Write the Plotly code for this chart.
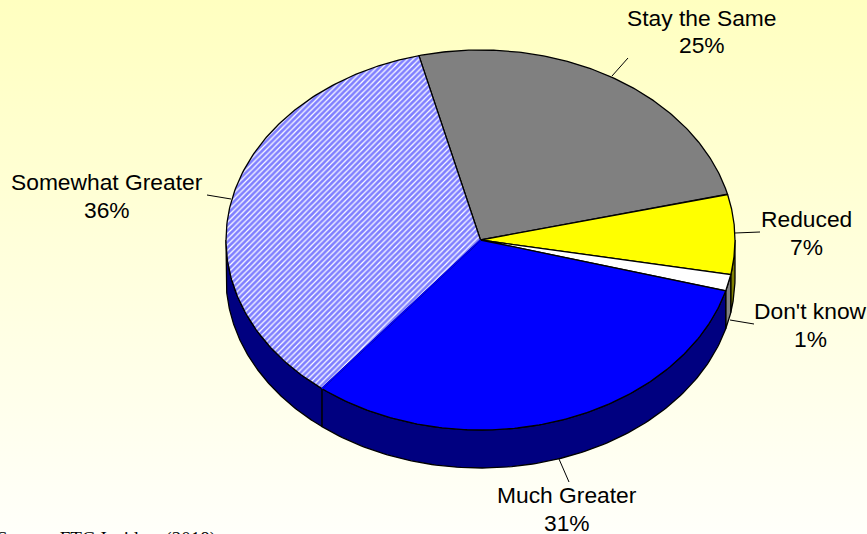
import numpy as np
import plotly.graph_objects as go

# Survey answers, clockwise from the top of the pie
categories = ["Stay the Same", "Reduced", "Don't know", "Much Greater", "Somewhat Greater"]
shares = [25.0, 6.8, 1.4, 31.4, 35.4]
percent_labels = ["25%", "7%", "1%", "31%", "36%"]
source_note = "Source: FTG Insiders (2018)"

# Pie drawn as tilted ellipse, sizes in page pixels
CX, CY = 480.5, 240
RX, RY = 254.5, 190
DEPTH = 38
START = 104  # degrees

top_colors = ["#808080", "#FFFF00", "#FFFFFF", "#0000FF", "#FFFFFF"]
side_colors = ["#404040", "#808000", "#808080", "#000080", "#000080"]

# label position (x, name line y, percent line y) and leader line for each slice
label_pos = [(702, 18, 45), (806, 219, 247), (810, 311, 339), (567, 495, 523), (107, 182, 210)]
leaders = [((612, 76), (628, 58)), ((735, 233), (760, 232)), ((730, 320), (754, 324)),
           ((559, 459), (569, 482)), ((231, 199), (207, 195))]


def rim(t):
    t = np.radians(t)
    return CX + RX * np.cos(t), CY - RY * np.sin(t)


fig = go.Figure()

# Background gradient
fig.add_trace(go.Scatter(
    x=[0, 867, 867, 0, 0], y=[0, 0, 534, 534, 0], mode="none", fill="toself",
    fillgradient=dict(type="vertical", colorscale=[[0, "#FFFFFA"], [1, "#FFFFC0"]]),
    hoverinfo="skip"))

# Slice angles from the shares
edges = START - np.cumsum([0] + shares) * 3.6

# Side wall first, only the front half of the rim shows
for i in range(len(shares)):
    lo, hi = max(edges[i + 1], -180), min(edges[i], 0)
    if lo >= hi:
        continue
    t = np.linspace(hi, lo, 120)
    x, y = rim(t)
    fig.add_trace(go.Scatter(
        x=np.r_[x, x[::-1], x[0]], y=np.r_[y, y[::-1] + DEPTH, y[0]],
        mode="lines", fill="toself", fillcolor=side_colors[i],
        line=dict(color="black", width=1.3), hoverinfo="skip"))

# Top faces
for i in range(len(shares)):
    t = np.linspace(edges[i], edges[i + 1], 160)
    x, y = rim(t)
    style = dict(fillcolor=top_colors[i])
    if categories[i] == "Somewhat Greater":
        style["fillpattern"] = dict(shape="/", fgcolor="#0000FF", bgcolor="#FFFFFF",
                                    size=4, solidity=0.7)
    fig.add_trace(go.Scatter(
        x=np.r_[CX, x, CX], y=np.r_[CY, y, CY],
        mode="lines", fill="toself", line=dict(color="black", width=1.3),
        hoverinfo="skip", **style))

# The edge between the blue and the hatched slice has no black outline
ex, ey = rim(edges[4])
fig.add_trace(go.Scatter(x=[CX, ex], y=[CY, ey], mode="lines",
                         line=dict(color="#0000FF", width=1.6), hoverinfo="skip"))

# Leader lines and labels
label_font = dict(family="Liberation Sans", size=22.8, color="black")
for (p0, p1), (lx, ly, py), name, pct in zip(leaders, label_pos, categories, percent_labels):
    fig.add_shape(type="line", x0=p0[0], y0=p0[1], x1=p1[0], y1=p1[1],
                  line=dict(color="black", width=1))
    fig.add_annotation(x=lx, y=ly, text=name, showarrow=False, font=label_font)
    fig.add_annotation(x=lx, y=py, text=pct, showarrow=False, font=label_font)

# Source line sits mostly below the page edge
fig.add_annotation(x=0, y=526, xshift=-5, text=source_note, showarrow=False,
                   xanchor="left", yanchor="top",
                   font=dict(family="Liberation Serif", size=19, color="black"))

fig.update_layout(
    width=867, height=534, showlegend=False,
    margin=dict(l=0, r=0, t=0, b=0),
    paper_bgcolor="white", plot_bgcolor="white",
    xaxis=dict(range=[0, 867], visible=False, fixedrange=True),
    yaxis=dict(range=[534, 0], visible=False, fixedrange=True),
)

fig.write_html("out.html", config=dict(displayModeBar=False),
               post_script="document.body.style.margin='0';")
